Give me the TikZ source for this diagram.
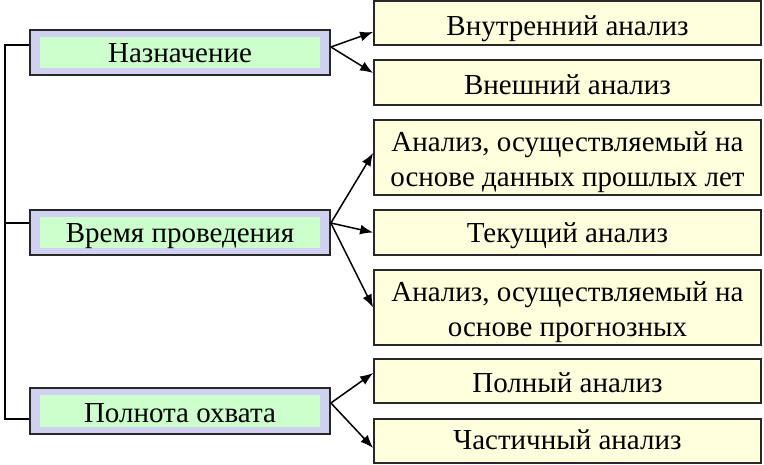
\documentclass[tikz,border=0pt]{standalone}
\usepackage{fontspec}
\setmainfont{Liberation Serif}
\usetikzlibrary{arrows.meta}
\definecolor{lav}{RGB}{208,208,240}
\definecolor{lgreen}{RGB}{204,255,204}
\definecolor{lyellow}{RGB}{255,255,222}
\definecolor{bord}{RGB}{40,40,40}
\tikzset{
  catbox/.style={draw=bord, line width=1.8pt, fill=lav, minimum width=300pt, minimum height=45pt, inner sep=0pt,
    font=\fontsize{29}{35}\selectfont, text depth=0pt,
    path picture={\fill[lgreen] ([xshift=10pt,yshift=-7pt]path picture bounding box.north west) rectangle ([xshift=-10pt,yshift=7pt]path picture bounding box.south east);}},
  itembox/.style={draw=bord, line width=1.8pt, fill=lyellow, minimum width=387pt, minimum height=45pt, inner sep=0pt,
    font=\fontsize{29}{35}\selectfont, text depth=0pt},
  twoline/.style={minimum height=75pt, text height=20pt, text depth=31pt},
  arr/.style={-{Latex[length=13pt,width=10pt]}, line width=1.5pt, black},
  brk/.style={line width=1.5pt, black}
}
\begin{document}
\begin{tikzpicture}[x=1pt,y=-1pt]
\useasboundingbox (0,0) rectangle (764,465);
\fill[white] (0,0) rectangle (764,465);
% left category boxes
\node[catbox, text height=20pt] (L1) at (180,52.5) {Назначение};
\node[catbox, text height=21pt] (L2) at (180,232.5) {Время проведения};
\node[catbox, minimum height=46pt, text height=22pt] (L3) at (180,411) {Полнота охвата};
% right item boxes
\node[itembox, minimum height=44pt, text height=25pt] (R1) at (567.5,23) {Внутренний анализ};
\node[itembox, text height=25pt] (R2) at (567.5,82.5) {Внешний анализ};
\node[itembox, twoline] (R3) at (567.5,157.5) {\parbox[t]{380pt}{\centering Анализ, осуществляемый на\\основе данных прошлых лет}};
\node[itembox, text height=21pt] (R4) at (567.5,232.5) {Текущий анализ};
\node[itembox, twoline] (R5) at (567.5,307.5) {\parbox[t]{380pt}{\centering Анализ, осуществляемый на\\основе прогнозных}};
\node[itembox, minimum height=44pt, text height=23pt] (R6) at (567.5,381) {Полный анализ};
\node[itembox, minimum height=44pt, text height=17pt] (R7) at (567.5,441) {Частичный анализ};
% bracket on the left
\coordinate (bar) at (5,0);
\coordinate (w1) at ([yshift=7.5pt]L1.west);
\coordinate (w2) at ([yshift=9.5pt]L2.west);
\coordinate (w3) at ([yshift=-8pt]L3.west);
\draw[brk] (w1) -- (w1 -| bar) -- (w3 -| bar) -- (w3);
\draw[brk] (w2) -- (w2 -| bar);
% arrow start points
\coordinate (s1) at ([yshift=5.5pt]L1.east);
\coordinate (s2) at ([yshift=9.5pt]L2.east);
\coordinate (s3) at ([yshift=8pt]L3.east);
% arrows
\draw[arr] (s1) -- ([yshift=-9pt]R1.west);
\draw[arr] (s1) -- ([yshift=9.5pt]R2.west);
\draw[arr] (s2) -- ([yshift=4.5pt]R3.west);
\draw[arr] (s2) -- (R4.west);
\draw[arr] (s2) -- (R5.west);
\draw[arr] (s3) -- ([yshift=8pt]R6.west);
\draw[arr] (s3) -- ([yshift=-7pt]R7.west);
\end{tikzpicture}
\end{document}
